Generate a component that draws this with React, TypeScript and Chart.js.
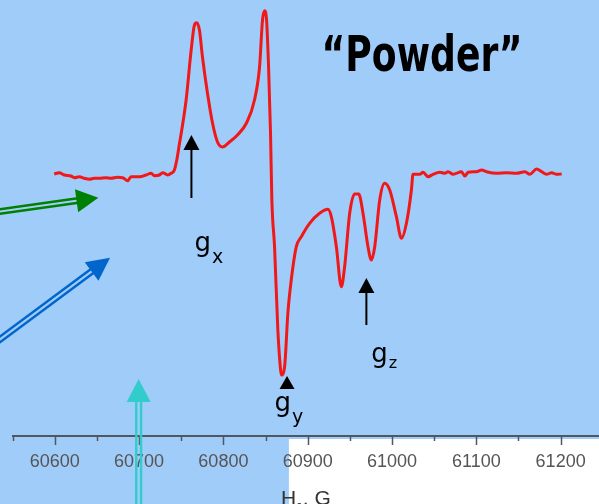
import { useEffect, useRef } from 'react';
import { Chart, registerables } from 'chart.js';

Chart.register(...registerables);

// ---- data (magnetic field in G, EPR signal in arbitrary units) ----
const fieldG = [
  60599.4, 60605.3, 60611.3, 60619.2, 60623.2, 60629.1, 60635.0, 60641.0, 60646.9, 60652.9,
  60660.8, 60666.7, 60674.6, 60680.5, 60686.5, 60690.5, 60700.4, 60708.3, 60714.3, 60718.2,
  60724.1, 60728.0, 60734.0, 60738.0, 60741.9, 60744.7, 60746.7,
  60755.8, 60761.8, 60765.7, 60768.4, 60771.6, 60775.2, 60781.1, 60787.1, 60793.0, 60798.9,
  60807.2, 60816.7, 60827.4, 60836.9, 60842.9, 60846.4, 60848.8, 60851.2, 60853.6, 60855.9, 60857.5,
  60860.7, 60864.6, 60867.5, 60868.7, 60872.6, 60876.5, 60880.5, 60886.5, 60892.4, 60902.3,
  60914.1, 60924.0, 60928.0, 60934.0, 60939.9, 60943.8, 60949.8, 60955.7, 60960.5, 60965.6,
  60971.5, 60975.5, 60979.5, 60985.4, 60991.3, 60997.3, 61005.2, 61011.2, 61017.1, 61023.0,
  61024.9, 61032.9, 61036.8, 61042.8, 61048.7, 61056.7, 61062.6, 61066.5, 61072.5, 61082.4,
  61086.3, 61090.3, 61100.2, 61106.2, 61112.1, 61124.0, 61135.9, 61147.7, 61157.6, 61163.5,
  61171.5, 61177.4, 61183.4, 61189.3, 61195.2, 61201.2,
];
const signal = [
  2, 3.3, 1, 0, -1.7, -0.7, -2.3, -3.3, -2.3, -2.3,
  -1.7, -2.3, -1.3, -1.7, -4.7, -0.7, -0.7, 1, 2.7, 0.3,
  1, 3.3, 1, 2.7, 6, 16, 26,
  76, 126, 151, 153.3, 146, 119, 83, 53, 34, 29,
  34, 41, 53, 76, 109, 156, 165.3, 156, 109, 43, -24,
  -71, -154, -191, -199, -190.7, -137, -104, -70.7, -60.7, -47.3,
  -37.3, -33.3, -40.7, -70.7, -110.7, -90.7, -37.3, -18, -18, -37.3,
  -70.7, -84, -70.7, -24, -7.3, -14, -40.7, -62.3, -47.3, -14,
  1.7, 1.7, 3.7, -0.7, 1.7, 3.7, 2.7, 4.3, 1.7, 4.3,
  0, 3.7, 4.3, 6, 4.3, 2.7, 3.3, 2.7, 4.3, 1.7,
  7, 4.3, 1.7, 3.3, 1.7, 2,
];

const tickValues = [60550, 60600, 60650, 60700, 60750, 60800, 60850, 60900, 60950, 61000, 61050, 61100, 61150, 61200];
const axisRange = [60550, 61245.5];
const signalRange = [-260, 176];
const whiteFrom = 60877.7;

const titleMain = 'H';
const titleSub = '0';
const titleRest = ', G';
const heading = '\u201CPowder\u201D';
const headingAt = [60916.5, 105];

// g-factor labels: subscript and anchor (field, signal)
const gLabelText = ['x', 'y', 'z'];
const gLabelAt = [[60765.7, -75], [60860.7, -235], [60975.5, -186]];
// black arrows (field, from, to)
const gArrows = [[60762.1, -22, 41], [60969.6, -149, -102]];
const gyMarker = [60875.5, -200];
// coloured double arrows: tail -> tip
const greenArrow = [[60522.2, -37], [60651.7, -21.7]];
const blueArrow = [[60522.2, -171.4], [60665.6, -81.7]];
const cyanArrow = [[60699.5, -344], [60699.5, -203]];

const BG = 'rgb(160,204,250)';

function head(ctx: CanvasRenderingContext2D, tx: number, ty: number, ux: number, uy: number, len: number, w: number, color: string) {
  const bx = tx - ux * len, by = ty - uy * len;
  const px = -uy, py = ux;
  ctx.beginPath();
  ctx.moveTo(tx, ty);
  ctx.lineTo(bx + px * w / 2, by + py * w / 2);
  ctx.lineTo(bx - px * w / 2, by - py * w / 2);
  ctx.closePath();
  ctx.fillStyle = color;
  ctx.fill();
}

function doubleArrow(ctx: CanvasRenderingContext2D, x0: number, y0: number, x1: number, y1: number, color: string, sep: number, lw: number, len: number, w: number) {
  const d = Math.hypot(x1 - x0, y1 - y0);
  const ux = (x1 - x0) / d, uy = (y1 - y0) / d;
  const px = -uy, py = ux;
  const ex = x1 - ux * len * 0.85, ey = y1 - uy * len * 0.85;
  ctx.strokeStyle = color;
  ctx.lineWidth = lw;
  ctx.lineCap = 'butt';
  for (const s of [-1, 1]) {
    ctx.beginPath();
    ctx.moveTo(x0 + px * s * sep / 2, y0 + py * s * sep / 2);
    ctx.lineTo(ex + px * s * sep / 2, ey + py * s * sep / 2);
    ctx.stroke();
  }
  head(ctx, x1, y1, ux, uy, len, w, color);
}

const decorPlugin = {
  id: 'decor',
  beforeDraw(chart: any) {
    const { ctx, width, height } = chart;
    const xs = chart.scales.x;
    ctx.save();
    ctx.fillStyle = BG;
    ctx.fillRect(0, 0, width, height);
    ctx.fillStyle = '#ffffff';
    const wx = xs.getPixelForValue(whiteFrom);
    ctx.fillRect(wx, xs.top + 3, width - wx, height - xs.top - 3);
    ctx.restore();
  },
  afterDraw(chart: any) {
    const { ctx } = chart;
    const xs = chart.scales.x;
    const ys = chart.scales.y;
    const X = (v: number) => xs.getPixelForValue(v);
    const Y = (v: number) => ys.getPixelForValue(v);
    ctx.save();
    // tick marks
    ctx.strokeStyle = '#50575e';
    ctx.lineWidth = 1.5;
    for (const v of tickValues) {
      const px = Math.round(X(v)) + 0.5;
      const len = v % 100 === 0 ? 9 : 5;
      ctx.beginPath();
      ctx.moveTo(px, xs.top);
      ctx.lineTo(px, xs.top + len);
      ctx.stroke();
    }
    // axis title
    const mainFont = '21px "Liberation Sans", Arial, sans-serif';
    const subFont = '12px "Liberation Sans", Arial, sans-serif';
    ctx.fillStyle = '#333333';
    ctx.textBaseline = 'alphabetic';
    ctx.textAlign = 'left';
    ctx.font = mainFont;
    const wMain = ctx.measureText(titleMain).width;
    const wRest = ctx.measureText(titleRest).width;
    ctx.font = subFont;
    const wSub = ctx.measureText(titleSub).width;
    const total = wMain + wSub + wRest;
    let tx = (xs.left + xs.right) / 2 - total / 2;
    const ty = xs.bottom + 1;
    ctx.font = mainFont;
    ctx.fillText(titleMain, tx, ty);
    tx += wMain;
    ctx.font = subFont;
    ctx.fillText(titleSub, tx, ty + 7);
    tx += wSub;
    ctx.font = mainFont;
    ctx.fillText(titleRest, tx, ty);

    // heading
    ctx.fillStyle = '#000000';
    ctx.font = 'bold 50px "DejaVu Sans", sans-serif';
    const hw = ctx.measureText(heading).width;
    ctx.save();
    ctx.translate(X(headingAt[0]), Y(headingAt[1]));
    ctx.scale(201 / hw, 1);
    ctx.fillText(heading, 0, 0);
    ctx.restore();

    // g labels
    const subDrop = [12, 12, 6];
    const subSize = [19, 19, 16];
    gLabelText.forEach((s, i) => {
      const gx = X(gLabelAt[i][0]);
      const gy = Y(gLabelAt[i][1]);
      ctx.font = '26px "DejaVu Sans", sans-serif';
      ctx.fillText('g', gx, gy);
      const gw = ctx.measureText('g').width;
      ctx.font = `${subSize[i]}px "DejaVu Sans", sans-serif`;
      ctx.fillText(s, gx + gw + 1, gy + subDrop[i]);
    });

    // black arrows
    for (const [f, a, b] of gArrows) {
      const px = X(f);
      const y0 = Y(a), y1 = Y(b);
      ctx.strokeStyle = '#000';
      ctx.lineWidth = 2;
      ctx.beginPath();
      ctx.moveTo(px, y0);
      ctx.lineTo(px, y1 + 10);
      ctx.stroke();
      head(ctx, px, y1, 0, -1, 15, 16, '#000');
    }
    head(ctx, X(gyMarker[0]), Y(gyMarker[1]), 0, -1, 13, 15, '#000');

    // coloured arrows
    doubleArrow(ctx, X(greenArrow[0][0]), Y(greenArrow[0][1]), X(greenArrow[1][0]), Y(greenArrow[1][1]), '#008000', 4.6, 2.5, 22, 23);
    doubleArrow(ctx, X(blueArrow[0][0]), Y(blueArrow[0][1]), X(blueArrow[1][0]), Y(blueArrow[1][1]), '#0066cc', 4.6, 2.5, 23, 23);
    doubleArrow(ctx, X(cyanArrow[0][0]), Y(cyanArrow[0][1]), X(cyanArrow[1][0]), Y(cyanArrow[1][1]), '#33cccc', 4.8, 2.4, 23, 24);
    ctx.restore();
  },
};

export default function App() {
  const ref = useRef<HTMLCanvasElement | null>(null);
  useEffect(() => {
    if (!ref.current) return;
    const chart = new Chart(ref.current, {
      type: 'line',
      data: {
        datasets: [
          {
            data: fieldG.map((x, i) => ({ x, y: signal[i] })),
            borderColor: '#f01818',
            borderWidth: 3,
            pointRadius: 0,
            cubicInterpolationMode: 'monotone',
            fill: false,
          },
        ],
      },
      options: {
        responsive: false,
        animation: false,
        devicePixelRatio: 1,
        layout: { padding: { left: 12.6, right: 0, top: 0, bottom: 0 } },
        plugins: { legend: { display: false }, tooltip: { enabled: false } },
        scales: {
          x: {
            type: 'linear',
            min: axisRange[0],
            max: axisRange[1],
            afterFit: (s: any) => { s.height = 68; },
            afterBuildTicks: (s: any) => { s.ticks = tickValues.map((v) => ({ value: v })); },
            grid: { display: false },
            border: { display: true, color: '#50575e', width: 2 },
            ticks: {
              autoSkip: false,
              maxRotation: 0,
              padding: 7,
              color: '#555555',
              font: { family: '"Liberation Sans", Arial, sans-serif', size: 18 },
              callback: (v: any) => (Number(v) % 100 === 0 ? String(v) : ''),
            },
          },
          y: { display: false, min: signalRange[0], max: signalRange[1] },
        },
      },
      plugins: [decorPlugin],
    } as any);
    return () => chart.destroy();
  }, []);
  return (
    <div style={{ position: 'absolute', left: 0, top: 0, width: 599, height: 504 }}>
      <canvas ref={ref} width={599} height={504} style={{ display: 'block' }} />
    </div>
  );
}
